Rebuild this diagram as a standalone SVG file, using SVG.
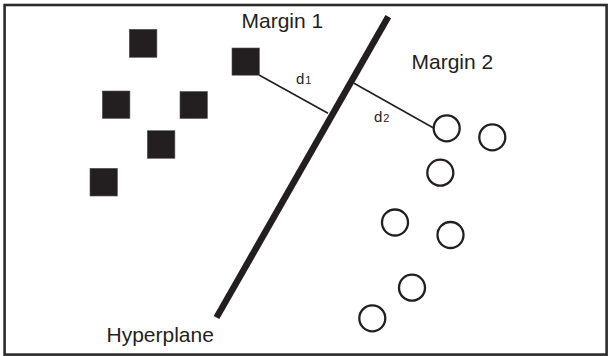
<svg xmlns="http://www.w3.org/2000/svg" width="611" height="356" viewBox="0 0 611 356">
  <style>
    .sq { fill: #231f20; stroke: #555; stroke-width: 0.6; }
    .pt { fill: none; stroke: #231f20; stroke-width: 2.3; }
    .lbl { font-family: "Liberation Sans", Arial, sans-serif; font-size: 21px; fill: #231f20; }
    .dl { font-family: "Liberation Sans", Arial, sans-serif; font-size: 15px; fill: #231f20; }
    .sub { font-size: 11px; }
    .dist { stroke: #231f20; stroke-width: 1.6; fill: none; }
  </style>
  <rect x="0" y="0" width="611" height="356" fill="#ffffff"/>
  <rect id="frame" x="4.6" y="5" width="602" height="349.6" fill="none" stroke="#2b2b2b" stroke-width="2.6"/>

  <g id="hyperplane">
    <line x1="388.3" y1="16.7" x2="216.5" y2="317.5" stroke="#231f20" stroke-width="6.5"/>
    <text class="lbl" x="106.5" y="341.7">Hyperplane</text>
  </g>

  <g id="margin1-label"><text class="lbl" x="241.5" y="27.6">Margin 1</text></g>
  <g id="margin2-label"><text class="lbl" x="411.5" y="69.3">Margin 2</text></g>

  <g id="connectors">
    <line class="dist" x1="259" y1="75" x2="328" y2="113.3"/>
    <line class="dist" x1="354" y1="83.3" x2="434" y2="128.3"/>
    <text class="dl" x="296" y="84.3">d<tspan class="sub" dx="0.8">1</tspan></text>
    <text class="dl" x="374" y="121.7">d<tspan class="sub" dx="0.8">2</tspan></text>
  </g>

  <g id="sq1"><rect class="sq" x="129.3" y="29.3" width="27.6" height="28"/></g>
  <g id="sq2"><rect class="sq" x="232" y="48" width="27.4" height="27.2"/></g>
  <g id="sq3"><rect class="sq" x="102.3" y="91" width="27.6" height="27.4"/></g>
  <g id="sq4"><rect class="sq" x="180" y="91.5" width="27.4" height="27"/></g>
  <g id="sq5"><rect class="sq" x="147.3" y="130.7" width="27.6" height="27.6"/></g>
  <g id="sq6"><rect class="sq" x="90" y="168.3" width="27.4" height="27.7"/></g>

  <g id="c1"><circle class="pt" cx="446.7" cy="128.3" r="13"/></g>
  <g id="c2"><circle class="pt" cx="492.3" cy="137.3" r="13"/></g>
  <g id="c3"><circle class="pt" cx="440.3" cy="172.7" r="13"/></g>
  <g id="c4"><circle class="pt" cx="395" cy="222.5" r="13"/></g>
  <g id="c5"><circle class="pt" cx="450.5" cy="235" r="13"/></g>
  <g id="c6"><circle class="pt" cx="412" cy="287.7" r="13"/></g>
  <g id="c7"><circle class="pt" cx="372.3" cy="318.3" r="13"/></g>
</svg>
